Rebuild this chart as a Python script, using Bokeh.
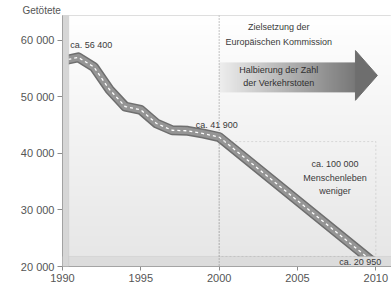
import numpy as np
from bokeh.plotting import figure
from bokeh.models import Range1d, FixedTicker, BoxAnnotation, Span, Label
from bokeh.embed import file_html
from bokeh.resources import INLINE

# ---- data ----
years = [1990, 1991, 1992, 1993, 1994, 1995, 1996, 1997, 1998, 1999, 2000]
deaths = [56400, 57000, 55300, 51300, 48300, 47700, 45300, 44100, 44000, 43500, 42900]
target_years = [2000, 2010]
target_deaths = [42900, 20400]
x_ticks = [1990, 1995, 2000, 2005, 2010]
y_ticks = [20000, 30000, 40000, 50000, 60000]
y_tick_labels = ["20 000", "30 000", "40 000", "50 000", "60 000"]

FONT = "Liberation Sans"
Y_TOP = 64400

p = figure(width=391, height=291, output_backend="svg", toolbar_location=None,
           x_range=Range1d(1990, 2011), y_range=Range1d(20000, Y_TOP),
           min_border_left=62, min_border_right=0, min_border_top=15, min_border_bottom=25,
           title="Getötete")
p.title.text_font = FONT
p.title.text_font_size = "10px"
p.title.text_font_style = "normal"
p.title.text_color = "#555555"
p.title.align = "left"
p.title.offset = -40
p.title.standoff = 0
p.grid.visible = False
p.outline_line_color = "#d4d4d4"
p.background_fill_color = "white"
p.border_fill_color = "white"

# background gradient of the back wall
n = 200
g = np.linspace(230, 255, n).astype(np.uint32)
img = np.zeros((n, 1), dtype=np.uint32)
view = img.view(dtype=np.uint8).reshape((n, 1, 4))
view[:, 0, 0] = g
view[:, 0, 1] = g
view[:, 0, 2] = g
view[:, 0, 3] = 255
p.image_rgba(image=[img], x=1990, y=20000, dw=21, dh=Y_TOP - 20000)

# 3D floor and left wall
p.add_layout(BoxAnnotation(bottom=20000, top=21770, fill_color="#dcdcdc", fill_alpha=1,
                           line_color="#bdbdbd", line_width=1))
p.add_layout(BoxAnnotation(left=1990, right=1990.4, fill_color="#d6d6d6", fill_alpha=1,
                           line_color="#b5b5b5", line_width=1))

# goal annotation: arrow
arrow_left, arrow_neck, arrow_tip = 2000, 2008.7, 2010.1
body_bottom, body_top = 50800, 56100
head_bottom, head_top = 49400, 58200
m = 200
h = np.linspace(238, 120, m).astype(np.uint32)
aimg = np.zeros((1, m), dtype=np.uint32)
av = aimg.view(dtype=np.uint8).reshape((1, m, 4))
av[0, :, 0] = h
av[0, :, 1] = h
av[0, :, 2] = h
av[0, :, 3] = 255
p.image_rgba(image=[aimg], x=arrow_left, y=body_bottom, dw=arrow_neck - arrow_left,
             dh=body_top - body_bottom)
p.patch([arrow_neck, arrow_tip, arrow_neck], [head_bottom, (head_bottom + head_top) / 2, head_top],
        fill_color="#6e6e6e", line_color="#6e6e6e")

# 2000 divider and saved-lives box
p.add_layout(Span(location=2000, dimension="height", line_color="#8a8a8a", line_dash="1 2",
                  line_width=1))
p.add_layout(BoxAnnotation(left=2000, right=2010, bottom=21770, top=42100, fill_alpha=0,
                           line_color="#9a9a9a", line_dash="2 2", line_width=1))

# road-style line
xs = years + target_years[1:]
ys = deaths + target_deaths[1:]
p.line(xs, ys, line_width=10, line_color="#6f6f6f", line_join="round", line_cap="butt")
p.line(xs, ys, line_width=7, line_color="#959595", line_join="round", line_cap="butt")
p.line(xs, ys, line_width=1.3, line_color="white", line_dash="3 3", line_join="round")

# texts
def lab(x, y, t, align="center", size="9px", color="#3a3a3a"):
    p.add_layout(Label(x=x, y=y, text=t, text_align=align, text_baseline="middle",
                       text_font=FONT, text_font_size=size, text_color=color))

lab(1990.5, 59100, "ca. 56 400", align="left")
lab(1999.85, 45100, "ca. 41 900")
lab(2009.0, 20850, "ca. 20 950")
lab(2003.8, 62300, "Zielsetzung der")
lab(2003.8, 59800, "Europäischen Kommission")
lab(2003.8, 54700, "Halbierung der Zahl", color="#303030")
lab(2003.8, 52500, "der Verkehrstoten", color="#303030")
lab(2007.4, 38100, "ca. 100 000")
lab(2007.4, 35600, "Menschenleben")
lab(2007.4, 33300, "weniger")

# axes
for ax in (p.xaxis[0], p.yaxis[0]):
    ax.axis_line_color = "#8c8c8c"
    ax.major_tick_line_color = "#8c8c8c"
    ax.minor_tick_line_color = None
    ax.major_label_text_font = FONT
    ax.major_label_text_font_size = "11px"
    ax.major_label_text_color = "#555555"
    ax.major_tick_in = 0
    ax.major_label_standoff = 3
p.xaxis.major_tick_out = 4
p.yaxis.major_tick_out = 5
p.xaxis.ticker = FixedTicker(ticks=x_ticks)
p.yaxis.ticker = FixedTicker(ticks=y_ticks)
p.yaxis.major_label_overrides = {t: s for t, s in zip(y_ticks, y_tick_labels)}

open("out.html", "w").write(file_html(p, INLINE))
